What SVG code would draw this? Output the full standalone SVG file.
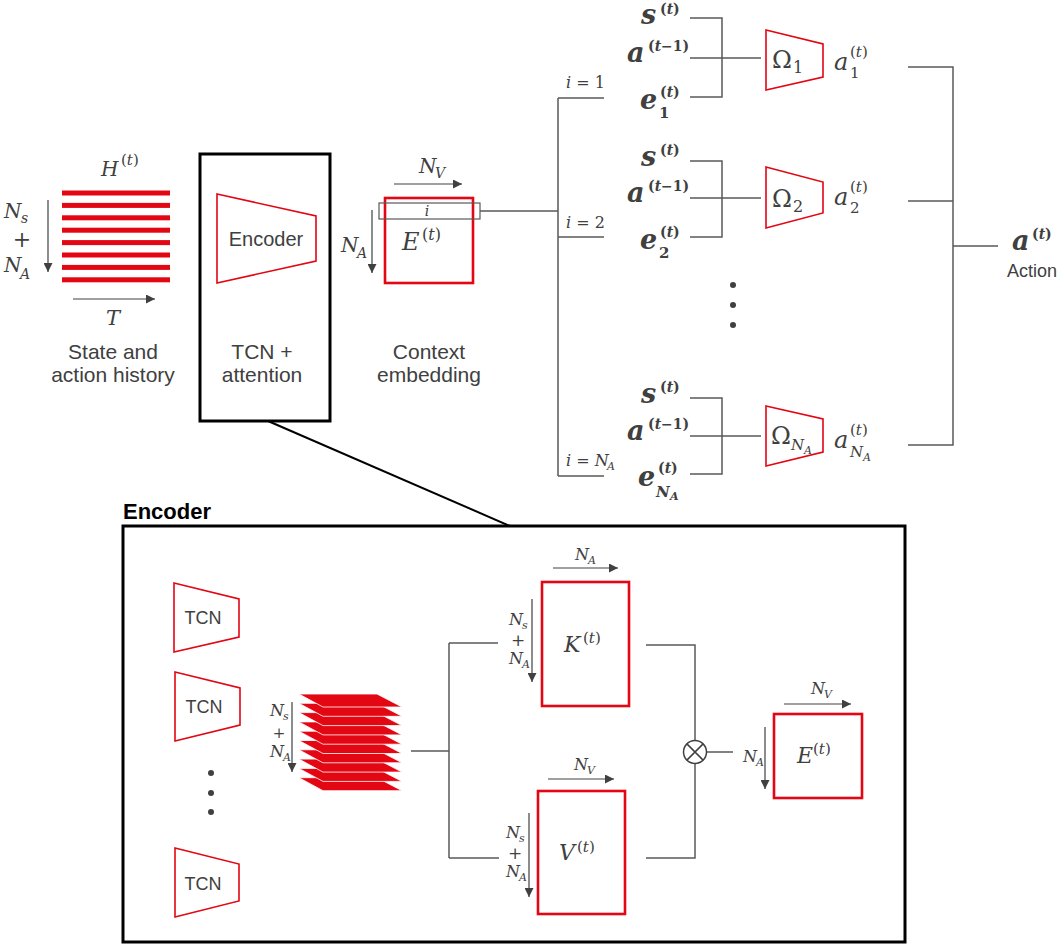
<svg xmlns="http://www.w3.org/2000/svg" width="1062" height="945" viewBox="0 0 1062 945">
<defs>
<marker id="ah" markerUnits="userSpaceOnUse" markerWidth="9" markerHeight="9" refX="9" refY="4.5" orient="auto"><path d="M0,0 L9,4.5 L0,9 z" fill="#404040"/></marker>
<style>
.ln{stroke:#595959;stroke-width:1.5;fill:none}
.ar{stroke:#404040;stroke-width:1.2;fill:none;marker-end:url(#ah)}
.rt{stroke:#e30613;stroke-width:1.6;fill:none}
.rb{stroke:#e30613;stroke-width:2.6;fill:none}
.bk{stroke:#000;stroke-width:3;fill:none}
.m{font-family:"DejaVu Serif",serif;font-style:italic;fill:#404040}
.mb{font-family:"DejaVu Serif",serif;font-style:italic;font-weight:bold;fill:#404040}
.u{font-style:normal}
.sf{font-family:"Liberation Sans",Arial,sans-serif;fill:#404040}
.st{fill:#e30613}
.ly{fill:#e30613;stroke:#fff;stroke-width:0.8}
.dot{fill:#404040}
</style>
</defs>
<rect width="1062" height="945" fill="#fff"/>

<g id="connectors">
  <line class="ln" x1="480" y1="211" x2="558" y2="211"/>
  <line class="ln" x1="558" y1="98" x2="558" y2="476"/>
  <line class="ln" x1="558" y1="98" x2="604" y2="98"/>
  <line class="ln" x1="558" y1="237" x2="604" y2="237"/>
  <line class="ln" x1="558" y1="476" x2="604" y2="476"/>
  <text class="m" x="566" y="88" font-size="16">i<tspan class="u"> = 1</tspan></text>
  <text class="m" x="566" y="228" font-size="16">i<tspan class="u"> = 2</tspan></text>
  <text class="m" x="566" y="466" font-size="16">i<tspan class="u"> = </tspan>N</text>
  <text class="m" x="607" y="470" font-size="11">A</text>
  <path class="ln" d="M690,18 H722 V97 H690 M690,58 H761"/>
  <path class="ln" d="M690,161 H722 V237 H690 M690,198 H761"/>
  <path class="ln" d="M690,398 H722 V474 H690 M690,436 H761"/>
  <path class="ln" d="M908,67 H953 V445 H908 M908,201 H953 M953,246 H998"/>
  <line x1="268" y1="421" x2="510" y2="526" stroke="#000" stroke-width="2"/>
  <path class="ln" d="M411,751 H449 M449,643 V858 M449,643 H498 M449,858 H499"/>
  <path class="ln" d="M646,645 H695 V740.5 M646,858 H695 V763.5 M706.5,752 H733"/>
</g>

<g id="history">
  <rect class="st" x="62" y="190.5" width="108" height="5"/>
  <rect class="st" x="62" y="202.9" width="108" height="5"/>
  <rect class="st" x="62" y="215.3" width="108" height="5"/>
  <rect class="st" x="62" y="227.7" width="108" height="5"/>
  <rect class="st" x="62" y="240.1" width="108" height="5"/>
  <rect class="st" x="62" y="252.5" width="108" height="5"/>
  <rect class="st" x="62" y="264.9" width="108" height="5"/>
  <rect class="st" x="62" y="277.3" width="108" height="5"/>
  <text class="m" x="101" y="176" font-size="20">H</text>
  <text class="m" x="121" y="165" font-size="15"><tspan class="u">(</tspan>t<tspan class="u">)</tspan></text>
  <text class="m" x="4" y="218" font-size="20">N</text>
  <text class="m" x="21" y="223" font-size="14">s</text>
  <text class="m u" x="22" y="247" font-size="22" text-anchor="middle">+</text>
  <text class="m" x="4" y="272" font-size="20">N</text>
  <text class="m" x="20" y="279" font-size="14">A</text>
  <line class="ar" x1="48" y1="200" x2="48" y2="272"/>
  <line class="ar" x1="73" y1="299" x2="155" y2="299"/>
  <text class="m" x="106" y="325" font-size="21">T</text>
  <text class="sf" x="113" y="359" font-size="21" text-anchor="middle">State and</text>
  <text class="sf" x="113" y="382" font-size="21" text-anchor="middle">action history</text>
</g>

<g id="encoder-top">
  <rect class="bk" x="200" y="154" width="130" height="267"/>
  <polygon class="rt" points="217,194 316,216 316,261 217,283"/>
  <text class="sf" x="266" y="246" font-size="20" text-anchor="middle">Encoder</text>
  <text class="sf" x="262" y="359" font-size="21" text-anchor="middle">TCN +</text>
  <text class="sf" x="262" y="382" font-size="21" text-anchor="middle">attention</text>
</g>

<g id="context">
  <text class="m" x="419" y="173" font-size="20">N</text>
  <text class="m" x="435" y="178" font-size="14">V</text>
  <line class="ar" x1="394" y1="184" x2="462" y2="184"/>
  <text class="m" x="341" y="252" font-size="20">N</text>
  <text class="m" x="357" y="258" font-size="14">A</text>
  <line class="ar" x1="372" y1="210" x2="372" y2="273"/>
  <rect class="rb" x="385" y="198" width="88" height="85"/>
  <rect x="379" y="203" width="101" height="16" fill="none" stroke="#595959" stroke-width="1.2"/>
  <text class="m" x="427" y="216" font-size="14" text-anchor="middle">i</text>
  <text class="m" x="402" y="250" font-size="24">E</text>
  <text class="m" x="422" y="240" font-size="16"><tspan class="u">(</tspan>t<tspan class="u">)</tspan></text>
  <text class="sf" x="429" y="359" font-size="21" text-anchor="middle">Context</text>
  <text class="sf" x="429" y="382" font-size="21" text-anchor="middle">embedding</text>
</g>

<g id="policy-1">
  <text class="mb" x="641" y="23.5" font-size="27">s</text>
  <text class="mb" x="660" y="14" font-size="14"><tspan class="u">(</tspan>t<tspan class="u">)</tspan></text>
  <text class="mb" x="627" y="62" font-size="27">a</text>
  <text class="mb" x="648" y="51" font-size="14"><tspan class="u">(</tspan>t<tspan class="u">−1)</tspan></text>
  <text class="mb" x="640" y="109" font-size="27">e</text>
  <text class="mb" x="660" y="97" font-size="14"><tspan class="u">(</tspan>t<tspan class="u">)</tspan></text>
  <text class="mb u" x="659" y="118" font-size="15">1</text>
  <polygon class="rt" points="766,30 823,44 823,77 766,90"/>
  <text class="m u" x="772" y="68" font-size="24">Ω</text>
  <text class="m u" x="793" y="73" font-size="16">1</text>
  <text class="m" x="834" y="70" font-size="24">a</text>
  <text class="m" x="850" y="57" font-size="15"><tspan class="u">(</tspan>t<tspan class="u">)</tspan></text>
  <text class="m u" x="850" y="78" font-size="15">1</text>
</g>

<g id="policy-2">
  <text class="mb" x="641" y="165.5" font-size="27">s</text>
  <text class="mb" x="660" y="155" font-size="14"><tspan class="u">(</tspan>t<tspan class="u">)</tspan></text>
  <text class="mb" x="627" y="202" font-size="27">a</text>
  <text class="mb" x="648" y="191" font-size="14"><tspan class="u">(</tspan>t<tspan class="u">−1)</tspan></text>
  <text class="mb" x="640" y="249" font-size="27">e</text>
  <text class="mb" x="660" y="237" font-size="14"><tspan class="u">(</tspan>t<tspan class="u">)</tspan></text>
  <text class="mb u" x="659" y="258" font-size="15">2</text>
  <polygon class="rt" points="766,167 823,182 823,213 766,228"/>
  <text class="m u" x="772" y="207" font-size="24">Ω</text>
  <text class="m u" x="793" y="212" font-size="16">2</text>
  <text class="m" x="834" y="205" font-size="24">a</text>
  <text class="m" x="850" y="192" font-size="15"><tspan class="u">(</tspan>t<tspan class="u">)</tspan></text>
  <text class="m u" x="850" y="213" font-size="15">2</text>
</g>

<g id="policy-dots">
  <circle class="dot" cx="733" cy="285" r="3"/>
  <circle class="dot" cx="733" cy="305" r="3"/>
  <circle class="dot" cx="733" cy="325" r="3"/>
</g>

<g id="policy-NA">
  <text class="mb" x="641" y="402.5" font-size="27">s</text>
  <text class="mb" x="660" y="392" font-size="14"><tspan class="u">(</tspan>t<tspan class="u">)</tspan></text>
  <text class="mb" x="627" y="440" font-size="27">a</text>
  <text class="mb" x="648" y="429" font-size="14"><tspan class="u">(</tspan>t<tspan class="u">−1)</tspan></text>
  <text class="mb" x="638" y="486" font-size="27">e</text>
  <text class="mb" x="658" y="473" font-size="14"><tspan class="u">(</tspan>t<tspan class="u">)</tspan></text>
  <text class="mb" x="656" y="497" font-size="15">N</text>
  <text class="mb" x="670" y="500" font-size="11">A</text>
  <polygon class="rt" points="766,406 823,419 823,452 766,466"/>
  <text class="m u" x="771" y="444" font-size="24">Ω</text>
  <text class="m" x="791" y="450" font-size="15">N</text>
  <text class="m" x="804" y="454" font-size="11">A</text>
  <text class="m" x="834" y="448" font-size="24">a</text>
  <text class="m" x="850" y="435" font-size="15"><tspan class="u">(</tspan>t<tspan class="u">)</tspan></text>
  <text class="m" x="850" y="457" font-size="15">N</text>
  <text class="m" x="863" y="461" font-size="11">A</text>
</g>

<g id="action">
  <text class="mb" x="1012" y="250" font-size="27">a</text>
  <text class="mb" x="1032" y="239" font-size="14"><tspan class="u">(</tspan>t<tspan class="u">)</tspan></text>
  <text class="sf" x="1032" y="277" font-size="18" text-anchor="middle">Action</text>
</g>

<g id="encoder-panel">
  <text x="123" y="519" font-family="Liberation Sans, Arial, sans-serif" font-weight="bold" font-size="22" fill="#000">Encoder</text>
  <rect class="bk" x="123" y="526" width="782" height="416"/>
</g>

<g id="tcn-1">
  <polygon class="rt" points="174,583 239,599 239,637 174,652"/>
  <text class="sf" x="203" y="624" font-size="18" text-anchor="middle">TCN</text>
</g>
<g id="tcn-2">
  <polygon class="rt" points="175,672 240,688 240,725 175,741"/>
  <text class="sf" x="204" y="713" font-size="18" text-anchor="middle">TCN</text>
</g>
<g id="tcn-dots">
  <circle class="dot" cx="211" cy="773" r="3"/>
  <circle class="dot" cx="211" cy="793" r="3"/>
  <circle class="dot" cx="211" cy="812" r="3"/>
</g>
<g id="tcn-3">
  <polygon class="rt" points="175,848 239,864 239,901 175,917"/>
  <text class="sf" x="203" y="890" font-size="18" text-anchor="middle">TCN</text>
</g>

<g id="stack">
  <polygon class="ly" points="299,777.7 377,777.7 402,790.7 323,790.7"/>
  <polygon class="ly" points="299,768.4 377,768.4 402,781.4 323,781.4"/>
  <polygon class="ly" points="299,759.1 377,759.1 402,772.1 323,772.1"/>
  <polygon class="ly" points="299,749.8 377,749.8 402,762.8 323,762.8"/>
  <polygon class="ly" points="299,740.5 377,740.5 402,753.5 323,753.5"/>
  <polygon class="ly" points="299,731.2 377,731.2 402,744.2 323,744.2"/>
  <polygon class="ly" points="299,721.9 377,721.9 402,734.9 323,734.9"/>
  <polygon class="ly" points="299,712.6 377,712.6 402,725.6 323,725.6"/>
  <polygon class="ly" points="299,703.3 377,703.3 402,716.3 323,716.3"/>
  <polygon class="ly" points="299,694 377,694 402,707 323,707"/>
  <text class="m" x="270" y="716" font-size="16">N</text>
  <text class="m" x="283" y="720" font-size="11">s</text>
  <text class="m u" x="279" y="738" font-size="15" text-anchor="middle">+</text>
  <text class="m" x="270" y="757" font-size="16">N</text>
  <text class="m" x="283" y="761" font-size="11">A</text>
  <line class="ar" x1="292" y1="702" x2="292" y2="772"/>
</g>

<g id="K">
  <text class="m" x="575" y="560" font-size="16">N</text>
  <text class="m" x="588" y="564" font-size="11">A</text>
  <line class="ar" x1="553" y1="568" x2="618" y2="568"/>
  <text class="m" x="509" y="625" font-size="16">N</text>
  <text class="m" x="522" y="629" font-size="11">s</text>
  <text class="m u" x="518" y="646" font-size="17" text-anchor="middle">+</text>
  <text class="m" x="509" y="664" font-size="16">N</text>
  <text class="m" x="522" y="668" font-size="11">A</text>
  <line class="ar" x1="532" y1="599" x2="532" y2="682"/>
  <rect class="rb" x="542" y="582" width="87" height="124"/>
  <text class="m" x="564" y="652" font-size="22">K</text>
  <text class="m" x="583" y="643" font-size="15"><tspan class="u">(</tspan>t<tspan class="u">)</tspan></text>
</g>

<g id="V">
  <text class="m" x="574" y="770" font-size="16">N</text>
  <text class="m" x="587" y="774" font-size="11">V</text>
  <line class="ar" x1="548" y1="779" x2="614" y2="779"/>
  <text class="m" x="506" y="838" font-size="16">N</text>
  <text class="m" x="519" y="842" font-size="11">s</text>
  <text class="m u" x="515" y="859" font-size="17" text-anchor="middle">+</text>
  <text class="m" x="506" y="877" font-size="16">N</text>
  <text class="m" x="519" y="881" font-size="11">A</text>
  <line class="ar" x1="529" y1="813" x2="529" y2="897"/>
  <rect class="rb" x="538" y="791" width="87" height="123"/>
  <text class="m" x="559" y="860" font-size="22">V</text>
  <text class="m" x="577" y="852" font-size="15"><tspan class="u">(</tspan>t<tspan class="u">)</tspan></text>
</g>

<g id="mult">
  <circle cx="695" cy="752" r="11.5" fill="none" stroke="#404040" stroke-width="1.5"/>
  <path d="M686.9,743.9 L703.1,760.1 M703.1,743.9 L686.9,760.1" stroke="#404040" stroke-width="1.5"/>
</g>

<g id="E-out">
  <text class="m" x="811" y="694" font-size="16">N</text>
  <text class="m" x="824" y="698" font-size="11">V</text>
  <line class="ar" x1="784" y1="704" x2="851" y2="704"/>
  <text class="m" x="743" y="762" font-size="16">N</text>
  <text class="m" x="756" y="766" font-size="11">A</text>
  <line class="ar" x1="765" y1="727" x2="765" y2="789"/>
  <rect class="rb" x="774" y="714" width="88" height="84"/>
  <text class="m" x="797" y="763" font-size="22">E</text>
  <text class="m" x="813" y="754" font-size="15"><tspan class="u">(</tspan>t<tspan class="u">)</tspan></text>
</g>
</svg>
